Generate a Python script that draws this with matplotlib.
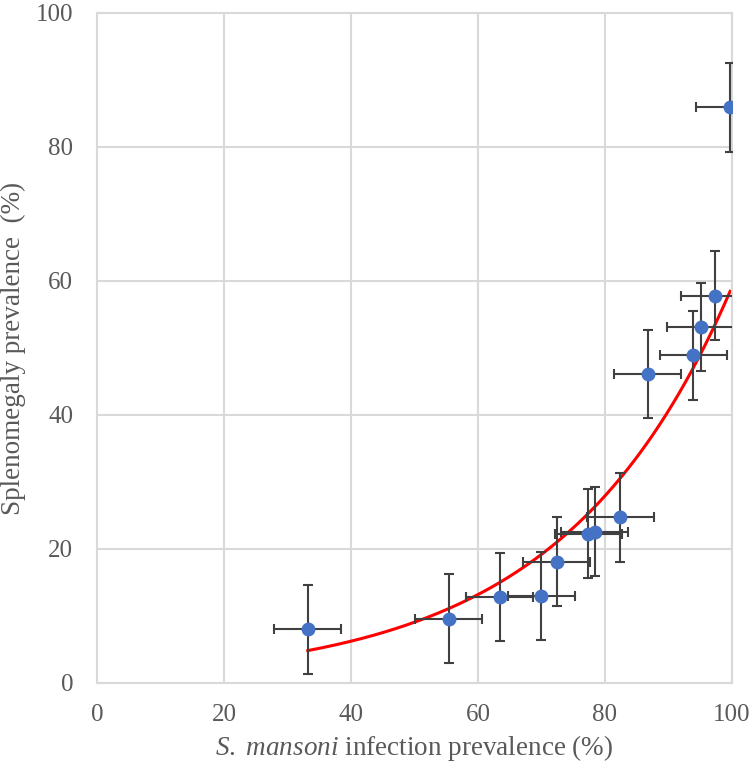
import numpy as np
import matplotlib
matplotlib.use("Agg")
import matplotlib.pyplot as plt

# infection prevalence (%) and splenomegaly prevalence (%) per community
infection = [33.2, 55.4, 63.4, 70.0, 72.4, 77.4, 78.4, 82.4, 86.7, 93.9, 95.1, 97.3, 99.7]
spleno = [8.0, 9.6, 12.8, 13.0, 18.1, 22.3, 22.6, 24.7, 46.1, 48.9, 53.1, 57.8, 85.9]
xerr = 5.3
yerr = 6.6

plt.rcParams['font.family'] = ['Liberation Serif', 'DejaVu Serif']
plt.rcParams['mathtext.fontset'] = 'custom'
plt.rcParams['mathtext.rm'] = 'Liberation Serif'
plt.rcParams['mathtext.it'] = 'Liberation Serif:italic'

grid = '#d9d9d9'
txt = '#595959'

fig = plt.figure(figsize=(7.5, 7.66), dpi=100)
ax = fig.add_axes([0.1293, 0.1084, 0.8467, 0.8747])

# exponential trendline, fitted on log scale like a spreadsheet trendline
b, lna = np.polyfit(infection, np.log(spleno), 1)
xs = np.linspace(min(infection), max(infection), 200)
ax.plot(xs, np.exp(lna) * np.exp(b * xs), color='#ff0000', lw=2.2, zorder=2)

ax.errorbar(infection, spleno, xerr=xerr, yerr=yerr, fmt='o', color='#4472c4',
            markersize=9, ecolor='#404040', elinewidth=1.5, capsize=3.3,
            capthick=1.5, zorder=3)

ax.set_xlim(0, 100)
ax.set_ylim(0, 100)
ax.set_xticks(range(0, 101, 20))
ax.set_yticks(range(0, 101, 20))
ax.grid(True, color=grid, lw=1.5)
ax.set_axisbelow(True)
for s in ax.spines.values():
    s.set_color(grid)
    s.set_linewidth(1.5)
ax.tick_params(length=0, labelsize=18, labelcolor=txt)
ax.tick_params(axis='x', pad=15)
ax.tick_params(axis='y', pad=17)

ax.set_xlabel(r'$\mathit{S.\ mansoni}$ infection prevalence (%)', fontsize=19.5,
              color=txt, labelpad=5)
ax.set_ylabel('Splenomegaly prevalence  (%)', fontsize=19.5, color=txt, labelpad=7)

fig.savefig('out.png', dpi=100)
